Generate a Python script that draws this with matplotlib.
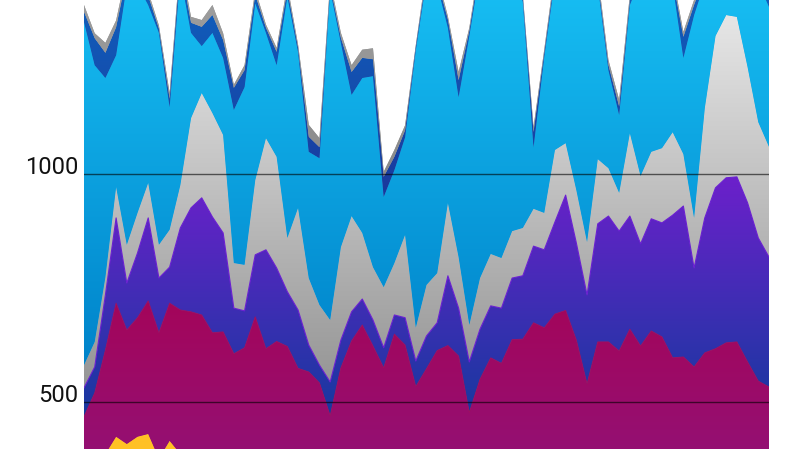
import numpy as np
import matplotlib
matplotlib.use("Agg")
import matplotlib.pyplot as plt
from matplotlib.colors import LinearSegmentedColormap

# ---- data (stacked series, bottom to top) ----
yellow = [330, 360, 385, 423, 407, 423, 429, 375, 414, 385,
          370, 360, 350, 340, 330, 345, 360, 340, 350, 335,
          320, 310, 300, 290, 310, 330, 340, 320, 300, 320,
          330, 300, 310, 330, 335, 320, 280, 300, 320, 315,
          330, 335, 345, 340, 350, 355, 330, 290, 320, 325,
          315, 335, 320, 330, 325, 310, 315, 305, 320, 325,
          330, 335, 315, 300, 295]
magenta = [137, 159, 228, 293, 250, 261, 292, 276, 302, 316,
           327, 330, 301, 313, 275, 273, 326, 276, 282, 286,
           253, 255, 241, 179, 264, 303, 328, 302, 274, 328,
           294, 233, 262, 282, 288, 280, 196, 249, 276, 269,
           306, 302, 328, 322, 342, 345, 305, 249, 311, 306,
           296, 324, 302, 325, 317, 286, 283, 271, 287, 291,
           299, 296, 272, 245, 237]
purple = [63, 57, 121, 187, 103, 142, 182, 120, 79, 180,
          228, 257, 254, 217, 100, 81, 136, 217, 161, 120,
          128, 59, 39, 74, 61, 64, 57, 57, 44, 42,
          60, 56, 72, 61, 153, 105, 111, 110, 114, 121,
          135, 139, 168, 171, 202, 253, 213, 195, 259, 276,
          263, 248, 224, 246, 250, 313, 331, 217, 296, 353,
          362, 362, 349, 314, 285]
light_gray = [50, 55, 39, 68, 84, 88, 77, 73, 82, 94,
              197, 230, 228, 215, 99, 101, 164, 245, 244, 118,
              224, 147, 132, 136, 204, 210, 145, 116, 133, 114,
              182, 73, 112, 109, 160, 112, 81, 112, 114, 110,
              103, 105, 82, 81, 158, 114, 116, 116, 142, 105,
              84, 182, 149, 147, 164, 182, 114, 110, 241, 333,
              357, 351, 298, 254, 242]
cyan = [753, 607, 437, 289, 570, 500, 390, 465, 269, 461,
        187, 103, 176, 169, 336, 390, 388, 231, 201, 529,
        342, 277, 322, 724, 448, 266, 340, 419, 198, 204,
        214, 609, 669, 632, 384, 351, 634, 676, 626, 625,
        571, 496, 135, 342, 373, 373, 466, 570, 383, 215,
        171, 281, 435, 392, 379, 324, 211, 445, 276, 138,
        102, 101, 196, 307, 307]
dark_blue = [22, 59, 55, 61, 20, 20, 20, 9, 18, 22,
             22, 42, 39, 39, 48, 37, 18, 11, 29, 15,
             9, 33, 24, 9, 11, 50, 44, 37, 44, 29,
             15, 7, 11, 11, 18, 37, 11, 11, 11, 11,
             11, 9, 33, 9, 11, 11, 11, 11, 11, 11,
             18, 11, 11, 11, 11, 11, 46, 22, 11, 11,
             11, 11, 11, 11, 20]
gray_edge = [15, 11, 22, 15, 12, 12, 9, 7, 13, 11,
             13, 15, 22, 15, 7, 11, 11, 7, 9, 11,
             7, 26, 20, 9, 11, 15, 18, 24, 11, 15,
             11, 4, 11, 11, 7, 18, 7, 11, 11, 11,
             11, 7, 11, 7, 11, 11, 11, 11, 11, 11,
             15, 11, 11, 11, 11, 11, 11, 11, 11, 11,
             11, 11, 11, 11, 18]

y_ticks = [500, 1000]
y_tick_labels = ["500", "1000"]

# ---- styles: (top colour, bottom colour) ----
styles = [
    (yellow, "#FFC125", "#FFC125"),
    (magenta, "#A4055A", "#8F137B"),
    (purple, "#6C20CB", "#16399F"),
    (light_gray, "#E6E6E6", "#959595"),
    (cyan, "#18C1F5", "#0083CA"),
    (dark_blue, "#0E66C2", "#1A389C"),
    (gray_edge, "#A2A2A2", "#8A8A8A"),
]

x = np.arange(len(yellow))
YMIN, YMAX = 396, 1381

fig = plt.figure(figsize=(8.0, 4.49), dpi=100)
ax = fig.add_axes([84 / 800, 0, 685 / 800, 1])
ax.axis("off")

grad = np.linspace(0, 1, 256).reshape(-1, 1)
base = np.zeros(len(x))
tops = []
for vals, ctop, cbot in styles:
    top = base + np.asarray(vals, dtype=float)
    mid = LinearSegmentedColormap.from_list("m", [cbot, ctop])(0.5)
    poly = ax.fill_between(x, base, top, facecolor=mid, edgecolor="none",
                           linewidth=0, zorder=1)
    cmap = LinearSegmentedColormap.from_list("g", [cbot, ctop])
    im = ax.imshow(grad, cmap=cmap, origin="lower",
                   extent=[x[0], x[-1], base.min(), top.max()],
                   aspect="auto", interpolation="bilinear", zorder=2)
    im.set_clip_path(poly.get_paths()[0], ax.transData)
    tops.append(top)
    base = top

# thin edge strokes
ax.plot(x, tops[2], color="#6A1FD2", lw=0.8, zorder=3)
ax.plot(x, tops[1], color="#A0105E", lw=0.6, zorder=3)

for t in y_ticks:
    ax.axhline(t, color="black", alpha=0.6, lw=1.0, zorder=5)

for t, lab in zip(y_ticks, y_tick_labels):
    ax.annotate(lab, xy=(0, t), xycoords=("axes fraction", "data"),
                xytext=(-6, 6), textcoords="offset pixels",
                ha="right", va="center", fontsize=17, family="Roboto",
                fontweight="normal", color="#111111", annotation_clip=False)

ax.set_xlim(x[0], x[-1])
ax.set_ylim(YMIN, YMAX)

fig.savefig("out.png", dpi=100, facecolor="white")
